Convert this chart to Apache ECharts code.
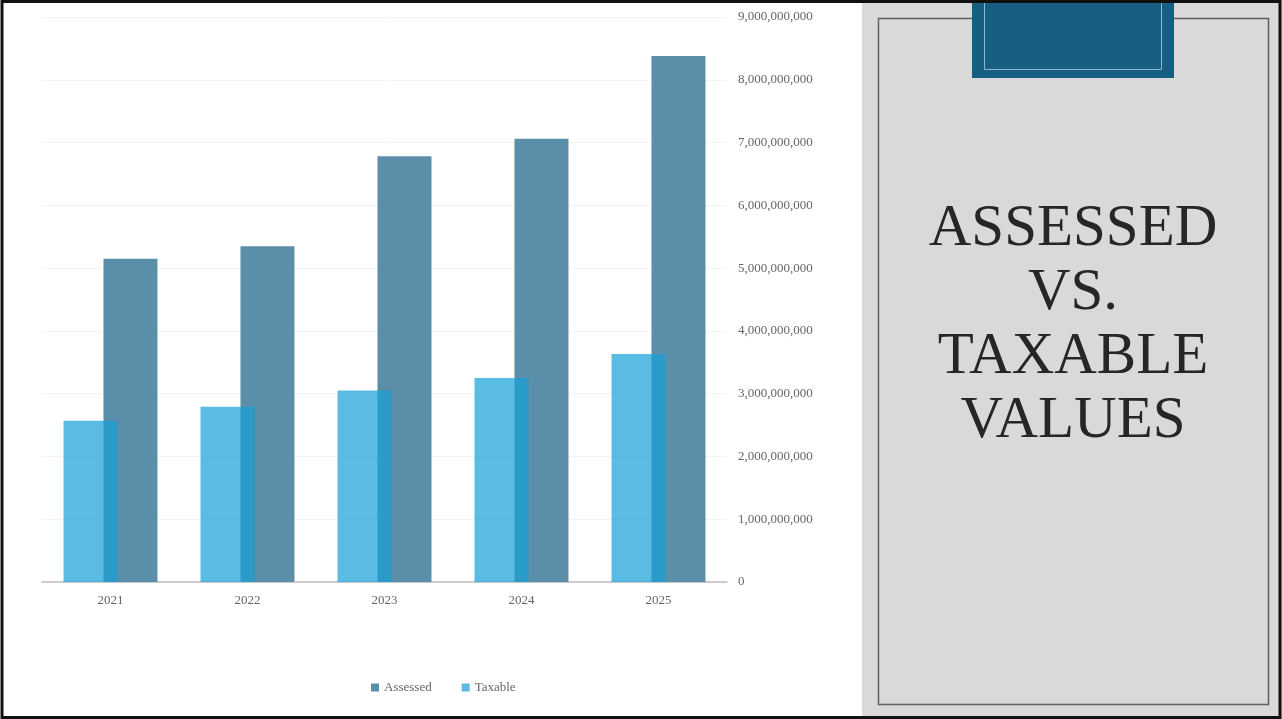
<!DOCTYPE html>
<html>
<head>
<meta charset="utf-8">
<script src="https://cdn.jsdelivr.net/npm/echarts@6/dist/echarts.min.js"></script>
<style>
  html, body { margin: 0; padding: 0; background: #fff; }
  #chart { width: 1282px; height: 719px; }
</style>
</head>
<body>
<div id="chart"></div>
<script>
// data
var years = ["2021", "2022", "2023", "2024", "2025"];
var assessed = [5150000000, 5350000000, 6780000000, 7060000000, 8380000000];
var taxable = [2570000000, 2790000000, 3050000000, 3250000000, 3630000000];
var titleLines = ["ASSESSED", "VS.", "TAXABLE", "VALUES"];

var myChart = echarts.init(document.getElementById("chart"));

var serif = "Liberation Serif";

var option = {
  backgroundColor: "#fff",
  textStyle: { fontFamily: serif },
  grid: {
    left: 42,
    right: 555,
    top: 17,
    bottom: 137,
  },
  legend: {
    data: ["Assessed", "Taxable"],
    left: 366,
    top: 676,
    icon: "rect",
    itemWidth: 8,
    itemHeight: 8,
    itemGap: 30,
    textStyle: { color: "#666", fontSize: 13, fontFamily: serif },
  },
  xAxis: {
    type: "category",
    data: years,
    axisLine: { lineStyle: { color: "#bfbfbf", width: 1.5 } },
    axisTick: { show: false },
    axisLabel: { color: "#666", fontSize: 13, margin: 12 },
  },
  yAxis: {
    type: "value",
    position: "right",
    min: 0,
    max: 9000000000,
    interval: 1000000000,
    axisLine: { show: false },
    axisTick: { show: false },
    splitLine: { lineStyle: { color: "#f3f3f3" } },
    axisLabel: {
      color: "#666",
      fontSize: 13,
      margin: 11,
      formatter: function (v) {
        return v.toString().replace(/\B(?=(\d{3})+(?!\d))/g, ",");
      },
    },
  },
  series: [
    {
      name: "Taxable",
      type: "bar",
      data: taxable,
      barWidth: 54,
      barGap: "-26%",
      z: 3,
      itemStyle: { color: "rgba(21,159,215,0.7)" },
    },
    {
      name: "Assessed",
      type: "bar",
      data: assessed,
      barWidth: 54,
      z: 2,
      itemStyle: { color: "#5b8ea8" },
    },
  ],
  graphic: [
    // right panel
    {
      type: "rect",
      shape: { x: 862, y: 0, width: 420, height: 719 },
      style: { fill: "#d9d9d9" },
      z: 10,
    },
    {
      type: "rect",
      shape: { x: 878.5, y: 18.5, width: 390, height: 686 },
      style: { fill: "none", stroke: "#5f5f5f", lineWidth: 1.5 },
      z: 11,
    },
    {
      type: "rect",
      shape: { x: 972, y: 0, width: 202, height: 78 },
      style: { fill: "#175f82" },
      z: 12,
    },
    {
      type: "polyline",
      shape: { points: [[984.5, 0], [984.5, 69.5], [1161.5, 69.5], [1161.5, 0]] },
      style: { fill: "none", stroke: "#8fb8cc", lineWidth: 1 },
      z: 13,
    },
    {
      type: "text",
      x: 1073,
      y: 197,
      style: {
        text: titleLines.join("\n"),
        align: "center",
        verticalAlign: "top",
        fill: "#262626",
        font: "59px 'Liberation Serif'",
        lineHeight: 64,
      },
      z: 14,
    },
    // outer frame
    {
      type: "rect",
      shape: { x: 2, y: 1.5, width: 1278, height: 716 },
      style: { fill: "none", stroke: "#111", lineWidth: 3 },
      z: 20,
    },
  ],
};

myChart.setOption(option);
</script>
</body>
</html>
